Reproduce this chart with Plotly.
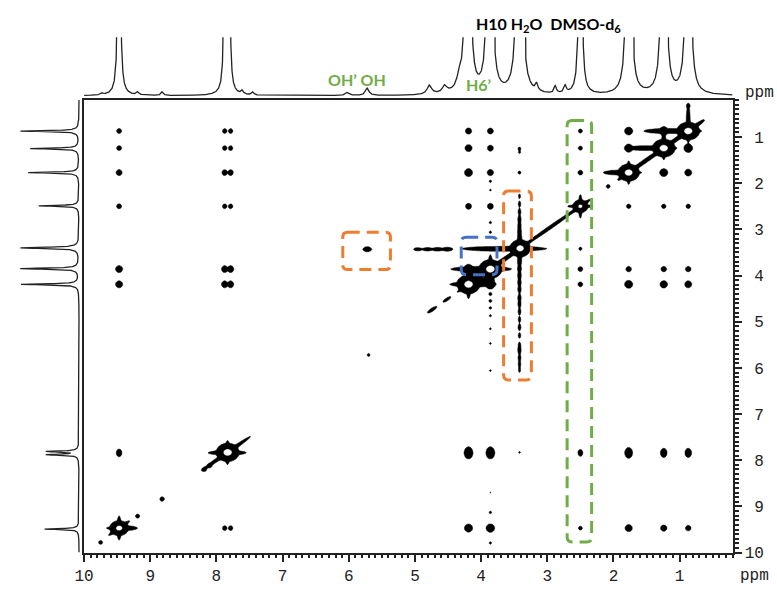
import numpy as np
import plotly.graph_objects as go

W, H = 777, 595

# ---------------- 1D projections (ppm, relative height, half width) ----------------
top_ppm = [9.73, 9.47, 9.19, 8.82, 7.87, 7.81, 7.61, 7.45, 6.02, 5.72, 4.78, 4.55, 4.33,
           4.20, 3.87, 3.42, 3.16, 2.88, 2.73, 2.50, 1.77, 1.24, 0.87]
top_int = [0.03, 9.0, 0.05, 0.06, 5.0, 5.0, 0.06, 0.05, 0.05, 0.12, 0.15, 0.12, 0.18,
           14.0, 14.0, 14.0, 0.12, 0.12, 0.12, 12.0, 16.0, 16.0, 16.0]
top_hw = [0.02, 0.012, 0.02, 0.02, 0.012, 0.012, 0.02, 0.02, 0.03, 0.03, 0.04, 0.04, 0.04,
          0.018, 0.018, 0.02, 0.02, 0.02, 0.02, 0.012, 0.016, 0.016, 0.016]

left_ppm = [9.49, 7.88, 7.81, 4.19, 3.85, 3.40, 2.49, 1.77, 1.25, 0.87]
left_int = [0.49, 0.45, 0.45, 0.82, 0.83, 0.83, 0.57, 0.72, 0.69, 0.83]
left_hw = [0.012, 0.012, 0.012, 0.013, 0.013, 0.015, 0.012, 0.012, 0.012, 0.012]

# ---------------- 2D map ----------------
spin_ppm = [9.47, 7.84, 4.19, 3.86, 2.50, 1.77, 1.24, 0.87]
doublet_784 = [7.875, 7.785]          # F2 doublet of the 7.84 ppm signal
# cross-peak amplitudes, rows = F1 spin, cols = F2 spin
cross_amp = [
    # 9.47 7.84 4.19 3.86 2.50 1.77 1.24 0.87
    [0,    3,   20,  25,  2.0, 10,  6,   4],    # F1 9.47
    [4,    0,   30,  30,  3,   15,  7,   7],    # F1 7.84
    [9,    9,   0,   60,  3,   18,  12,  9],    # F1 4.19
    [9,    9,   60,  0,   3,   4,   4,   4],    # F1 3.86
    [3,    3,   5,   5,   0,   2.5, 2.5, 2.5],  # F1 2.50
    [5,    5,   18,  6,   3,   0,   18,  9],    # F1 1.77
    [3,    3,   9,   5,   2.2, 20,  0,   30],   # F1 1.24
    [3,    3,   6,   5,   2.2, 18,  30,  0],    # F1 0.87
]
diag_ppm = [9.47, 7.83, 4.19, 3.86, 3.41, 2.50, 1.77, 1.24, 0.87]
diag_amp = [320, 380, 380, 380, 360, 260, 380, 380, 380]
diag_w2 = [0.042, 0.050, 0.050, 0.050, 0.045, 0.034, 0.047, 0.050, 0.050]
diag_w1 = [0.048, 0.058, 0.060, 0.060, 0.055, 0.042, 0.054, 0.056, 0.056]

# isolated features: F2, F1, amplitude, width F2, width F1
feat_f2 = [5.72, 5.70, 3.42, 3.42, 3.42, 3.42, 2.50,
           4.51, 4.66, 4.81, 4.96,
           3.86, 3.86, 3.86, 3.86, 3.86, 3.86, 3.86, 3.86, 3.86, 3.86, 3.86, 3.86, 3.86, 3.86,
           9.75, 9.19, 8.82, 8.18, 8.10, 0.87, 2.08]
feat_f1 = [3.43, 5.72, 1.25, 1.33, 1.77, 7.83, 3.42,
           3.43, 3.43, 3.43, 3.43,
           1.96, 2.15, 2.85, 3.06, 4.40, 4.55, 4.70, 4.87, 5.15, 5.47, 6.06, 8.70, 9.13, 9.79,
           9.78, 9.21, 8.84, 8.20, 8.12, 0.32, 2.07]
feat_amp = [6, 1.8, 1.8, 1.4, 2.0, 1.3, 2.0,
            4, 3.5, 3, 2.5,
            1.5, 1.3, 1.5, 1.5, 2.0, 1.8, 1.6, 1.4, 1.3, 1.3, 1.3, 1.1, 1.6, 1.5,
            2.0, 2.2, 2.6, 2.2, 2.2, 1.6, 2.0]
feat_w2 = [0.035, 0.02, 0.02, 0.02, 0.02, 0.02, 0.02,
           0.045, 0.045, 0.045, 0.045] + [0.02] * 14 + [0.025] * 7
feat_w1 = [0.028, 0.03, 0.03, 0.03, 0.03, 0.03, 0.03,
           0.025, 0.025, 0.025, 0.025] + [0.03] * 14 + [0.035] * 7

# water t1 ridge (F2 = 3.42): F1 positions and amplitudes
water_f1 = [2.28, 2.45, 2.62, 2.78, 2.92, 3.05, 3.18, 3.30, 3.55, 3.70, 3.85, 4.00, 4.15,
            4.30, 4.48, 4.62, 4.78, 4.95, 5.12, 5.30, 5.50, 5.62, 5.78, 5.92, 6.05]
water_amp = [1.6, 2, 2.4, 3.2, 3.2, 4, 4.8, 6.4, 6.4, 4.8, 4, 4, 3.6, 3.2, 3.2, 2.8, 2.4, 2,
             2.4, 2, 2, 3.2, 2.4, 2, 1.6]

# horizontal ridges: F1 row, F2 centre, amplitude, half length (sigma)
hr_f1 = [3.42, 3.86, 4.19, 1.24, 0.87, 1.77, 9.47, 7.84, 3.95, 4.10]
hr_f2 = [3.65, 4.00, 4.12, 1.50, 1.20, 1.95, 9.35, 7.84, 4.05, 4.05]
hr_amp = [10, 14, 14, 10, 10, 8, 6, 6, 8, 8]
hr_len = [0.30, 0.20, 0.15, 0.13, 0.16, 0.10, 0.08, 0.15, 0.12, 0.12]

# vertical ridges: F2 column, F1 centre, amplitude, sigma
vr_f2 = [0.87, 4.19, 3.86, 9.47, 7.84, 1.77, 1.24]
vr_f1 = [0.60, 4.19, 3.86, 9.47, 7.84, 1.77, 1.05]
vr_amp = [6, 6, 6, 5, 5, 5, 5]
vr_len = [0.15, 0.15, 0.15, 0.10, 0.10, 0.08, 0.12]

# ridges along the diagonal: centre ppm, amplitude, sigma along diagonal
dr_ppm = [7.84, 9.47, 4.74, 4.52, 3.80, 2.95, 1.50, 1.05, 0.76, 2.50, 1.77]
dr_amp = [8, 6, 4, 3, 14, 5, 9, 9, 7, 5, 7]
dr_len = [0.25, 0.12, 0.06, 0.05, 0.35, 0.30, 0.20, 0.15, 0.10, 0.12, 0.12]

# annotation boxes (left ppm, right ppm, top ppm, bottom ppm)
box_left = [6.09, 4.30, 3.66, 2.70]
box_right = [5.37, 3.76, 3.24, 2.33]
box_top = [3.06, 3.17, 2.17, 0.64]
box_bottom = [3.87, 3.98, 6.26, 9.77]
box_color = ["#ED7D31", "#4472C4", "#ED7D31", "#70AD47"]

# ---------------- build map ----------------
xs = np.arange(0.2, 10.0001, 0.015)
ys = np.arange(0.2, 10.0001, 0.021)
Z = np.zeros((ys.size, xs.size))
X, Y = np.meshgrid(xs, ys)


def add_g(x0, y0, a, sx, sy):
    gx = np.exp(-0.5 * ((xs - x0) / sx) ** 2)
    gy = np.exp(-0.5 * ((ys - y0) / sy) ** 2)
    Z[:, :] += a * np.outer(gy, gx)


def add_d(c, a, su, sv=0.017):
    u = ((X - c) + (Y - c)) / np.sqrt(2)
    v = ((X - c) - (Y - c)) / np.sqrt(2)
    Z[:, :] += a * np.exp(-0.5 * ((u / su) ** 2 + (v / sv) ** 2))


CX, CY = 0.025, 0.035
for i, f1 in enumerate(spin_ppm):
    for j, f2 in enumerate(spin_ppm):
        a = cross_amp[i][j]
        if a <= 0:
            continue
        sy = 0.05 if abs(f1 - 7.84) < 0.01 else CY
        if abs(f2 - 7.84) < 0.01:
            for d in doublet_784:
                add_g(d, f1, a, 0.022, sy)
        else:
            add_g(f2, f1, a, CX, sy)

for p, a, s2, s1 in zip(diag_ppm, diag_amp, diag_w2, diag_w1):
    add_g(p, p, a, s2, s1)
    add_g(p, p, 7, 0.10, 0.017)
    add_g(p, p, 7, 0.014, 0.13)

for f2, f1, a, s2, s1 in zip(feat_f2, feat_f1, feat_amp, feat_w2, feat_w1):
    add_g(f2, f1, a, s2, s1)
for f1, a in zip(water_f1, water_amp):
    add_g(3.42, f1, a, 0.016, 0.05)
for f1, f2, a, s in zip(hr_f1, hr_f2, hr_amp, hr_len):
    add_g(f2, f1, a, s, 0.024)
for f2, f1, a, s in zip(vr_f2, vr_f1, vr_amp, vr_len):
    add_g(f2, f1, a, 0.014, s)
for c, a, s in zip(dr_ppm, dr_amp, dr_len):
    add_d(c, a, s)

Z = np.round(np.clip(Z, 0, 400), 1)

# ---------------- 1D traces ----------------
x1 = np.arange(0.2, 10.0, 0.002)
top = np.zeros_like(x1)
for p, h, g in zip(top_ppm, top_int, top_hw):
    top += h / (1 + ((x1 - p) / g) ** 2) + 0.04 * min(h, 1.0) / (1 + ((x1 - p) / 0.08) ** 2)

y1 = np.arange(0.2, 10.0, 0.002)
left = np.zeros_like(y1)
for p, h, g in zip(left_ppm, left_int, left_hw):
    left += h / (1 + ((y1 - p) / g) ** 2) + 0.05 * h / (1 + ((y1 - p) / 0.07) ** 2)

fig = go.Figure()
# two contour levels (1 and 170): band between them black, outside white
fig.add_trace(go.Contour(
    x=xs, y=ys, z=Z, xaxis="x", yaxis="y",
    autocontour=False, contours=dict(start=1, end=170, size=169, coloring="fill", showlines=True),
    colorscale=[[0, "white"], [0.5, "black"], [1, "white"]],
    line=dict(color="black", width=0.5),
    showscale=False, hoverinfo="skip"))
fig.add_trace(go.Scatter(x=x1, y=top, xaxis="x2", yaxis="y2", mode="lines",
                         line=dict(color="#222", width=1.3), hoverinfo="skip"))
fig.add_trace(go.Scatter(x=left, y=y1, xaxis="x3", yaxis="y3", mode="lines",
                         line=dict(color="#222", width=1.3), hoverinfo="skip"))

tickfont = dict(family="Liberation Mono, DejaVu Sans Mono, monospace", size=16, color="#222")
ticks = list(range(1, 11))
fig.update_layout(
    width=W, height=H, margin=dict(l=0, r=0, t=0, b=0),
    paper_bgcolor="white", plot_bgcolor="white", showlegend=False,
    xaxis=dict(domain=[75 / W, 732 / W], range=[10, 0.2], tickvals=ticks,
               ticktext=[str(t) for t in ticks], ticks="outside", ticklen=7, tickwidth=1.5,
               tickcolor="#222", minor=dict(dtick=0.1, ticks="outside", ticklen=3, tickcolor="#222"),
               showline=True, linecolor="#222", linewidth=2, mirror=True,
               showgrid=False, zeroline=False, tickfont=tickfont, anchor="y"),
    yaxis=dict(domain=[1 - 563 / H, 1 - 102 / H], range=[10, 0.2], side="right",
               tickvals=ticks, ticktext=["\u00a0" + str(t) if t < 10 else str(t) for t in ticks],
               ticks="outside", ticklen=7, tickwidth=1.5, tickcolor="#222",
               minor=dict(dtick=0.1, ticks="outside", ticklen=4, tickcolor="#222"),
               showline=True, linecolor="#222", linewidth=2, mirror=True,
               showgrid=False, zeroline=False, tickfont=tickfont, anchor="x"),
    xaxis2=dict(domain=[75 / W, 732 / W], matches="x", visible=False, anchor="y2"),
    yaxis2=dict(domain=[1 - 100 / H, 1 - 38 / H], range=[-0.04, 1], visible=False, anchor="x2"),
    xaxis3=dict(domain=[2 / W, 72 / W], range=[1.0, -0.03], visible=False, anchor="y3"),
    yaxis3=dict(domain=[1 - 563 / H, 1 - 102 / H], matches="y", visible=False, anchor="x3"),
)


def rounded_box(L, R, T, B, rx=0.075, ry=0.105):
    return (f"M {L - rx},{T} L {R + rx},{T} Q {R},{T} {R},{T + ry} L {R},{B - ry} "
            f"Q {R},{B} {R + rx},{B} L {L - rx},{B} Q {L},{B} {L},{B - ry} "
            f"L {L},{T + ry} Q {L},{T} {L - rx},{T} Z")


for L, R, T, B, c in zip(box_left, box_right, box_top, box_bottom, box_color):
    fig.add_shape(type="path", path=rounded_box(L, R, T, B), xref="x", yref="y",
                  line=dict(color=c, width=3, dash="12px,7px"), layer="above")

lab = dict(family="Lato, Open Sans, sans-serif", size=16)
ann = [
    dict(x=546 / W, y=1 - 25 / H, text="<b>H10 H<sub>2</sub>O  DMSO-d<sub>6</sub></b>",
         font=dict(color="black", **lab)),
    dict(x=352 / W, y=1 - 81 / H, text="<b>OH\u2019 OH</b>", font=dict(color="#70AD47", **lab)),
    dict(x=475 / W, y=1 - 86 / H, text="<b>H6\u2019</b>", font=dict(color="#70AD47", **lab)),
    dict(x=759 / W, y=1 - 95 / H, text="ppm", font=tickfont),
    dict(x=754 / W, y=1 - 587 / H, text="ppm", font=tickfont),
]
for a in ann:
    fig.add_annotation(xref="paper", yref="paper", showarrow=False, xanchor="center",
                       yanchor="middle", **a)

fig.write_html("out.html")
